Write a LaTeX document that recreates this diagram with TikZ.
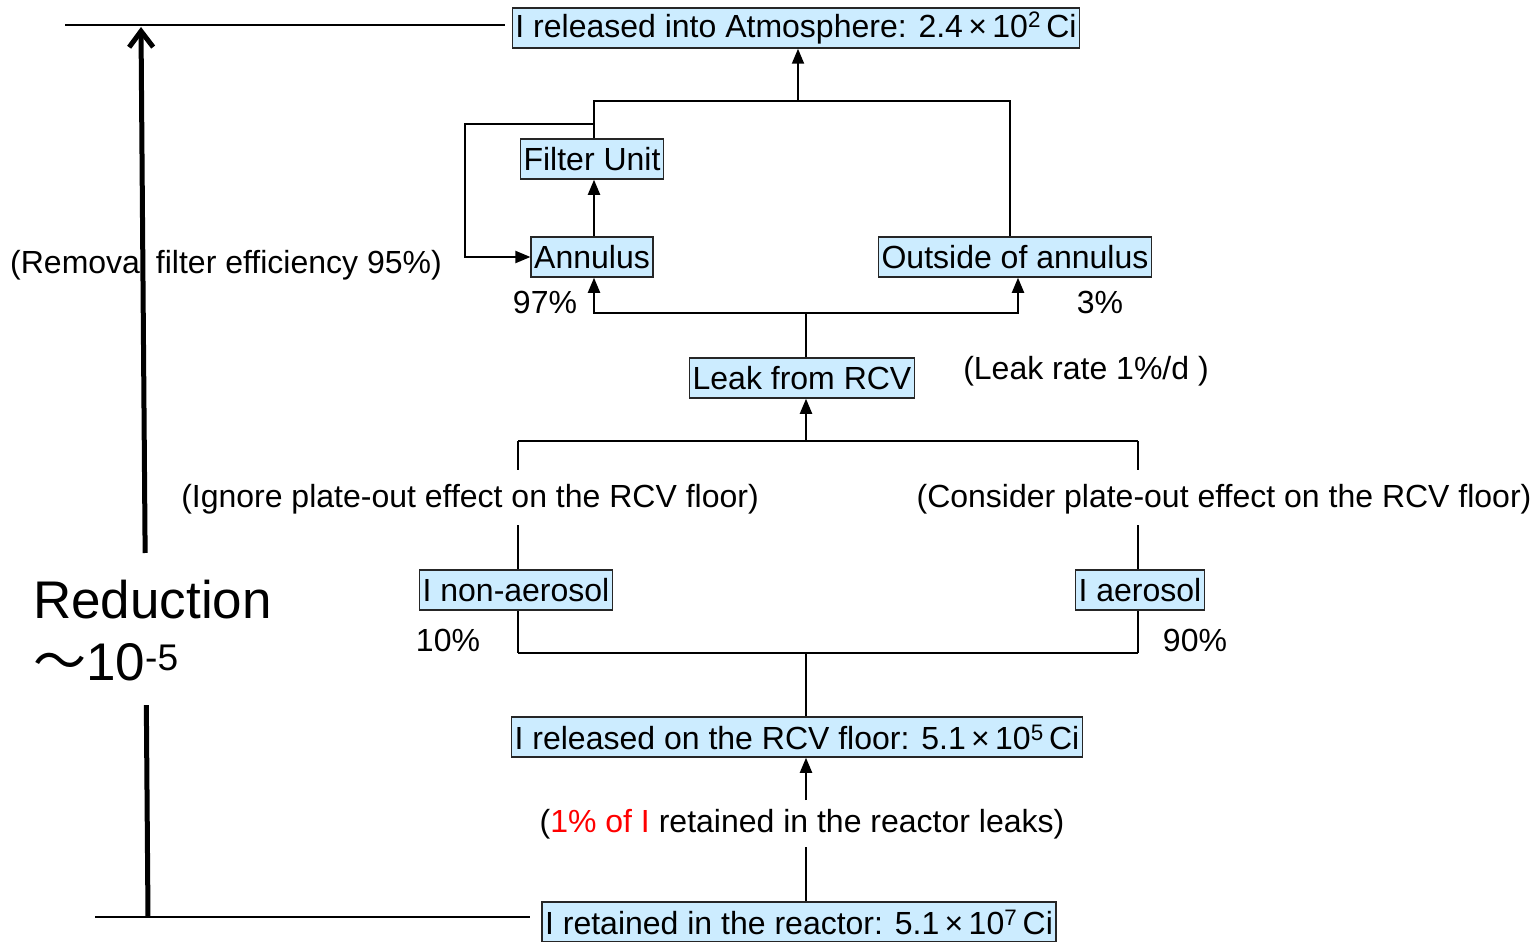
\documentclass[tikz,border=0pt]{standalone}
\usepackage{fontspec}
\setmainfont{Liberation Sans}
\newfontfamily\cjkjp{Noto Sans CJK JP}
\usetikzlibrary{arrows.meta,calc}
\definecolor{boxblue}{RGB}{204,236,255}
\begin{document}
\begin{tikzpicture}[x=1pt,y=-1pt,
  box/.style={draw=black!85, fill=boxblue, line width=1.5pt, inner xsep=3pt, inner ysep=0pt,
              minimum height=40pt, font=\fontsize{32}{37}\selectfont},
  lbl/.style={inner sep=0pt, font=\fontsize{32}{37}\selectfont},
  wire/.style={line width=2pt},
  thinwire/.style={line width=1.2pt},
  flow/.style={line width=2pt, -{Triangle[length=15pt,width=12pt]}},
  bigline/.style={line width=5pt}]
\useasboundingbox (0,0) rectangle (1537,942);

% boxes
\node[box] (tb) at (796,28)   {I released into Atmosphere: 2.4\,×\,10\textsuperscript{2}\,Ci};
\node[box] (fu) at (592,159)  {Filter Unit};
\node[box] (an) at (592,257)  {Annulus};
\node[box] (ob) at (1015,257) {Outside of annulus};
\node[box] (lk) at (802,378)  {Leak from RCV};
\node[box] (na) at (516,590)  {I non-aerosol};
\node[box] (ae) at (1140,590) {I aerosol};
\node[box] (fl) at (797,737)  {I released on the RCV floor: 5.1\,×\,10\textsuperscript{5}\,Ci};
\node[box] (rx) at (799,922)  {I retained in the reactor: 5.1\,×\,10\textsuperscript{7}\,Ci};

% labels
\node[lbl] (rem) at (226,265)  {(Removal filter efficiency 95\%)};
\node[lbl] (p97) at (545,302)  {97\%};
\node[lbl] (p3)  at (1100,302) {3\%};
\node[lbl] (lr)  at (1086,371) {(Leak rate 1\%/d )};
\node[lbl] (ign) at (470,499)  {(Ignore plate-out effect on the RCV floor)};
\node[lbl] (con) at (1224,499) {(Consider plate-out effect on the RCV floor)};
\node[lbl] (p10) at (448,640)  {10\%};
\node[lbl] (p90) at (1195,640) {90\%};
\node[lbl] (leak) at (802,824) {(\textcolor{red}{1\% of I} retained in the reactor leaks)};

\node[anchor=base west, inner sep=0pt, font=\fontsize{53}{60}\selectfont] (red1) at (33,618) {Reduction};
\node[anchor=base west, inner sep=0pt, font=\fontsize{53}{60}\selectfont] (red2) at (33,680)
  {{\cjkjp ～}10\textsuperscript{-5}};

% helper coordinates
\coordinate (xa)  at (594,0);
\coordinate (xo)  at (1010,0);
\coordinate (xob) at (1018,0);
\coordinate (xm)  at (806,0);
\coordinate (xl)  at (518,0);
\coordinate (xr)  at (1138,0);
\coordinate (tbus) at (798,101);
\coordinate (abus) at (806,313);
\coordinate (lbus) at (806,441);
\coordinate (bbus) at (806,653);
\coordinate (byp)  at (594,124);
\coordinate (byl)  at (465,124);
\coordinate (gapu) at (0,470);
\coordinate (gapd) at (0,525);
\coordinate (lku)  at (806,800);
\coordinate (lkd)  at (806,847);

% upper network
\draw[flow] (tbus) -- (tbus |- tb.south);
\draw[wire] (xa |- fu.north) -- (xa |- tbus) -- (xo |- tbus) -- (xo |- ob.north);
\draw[flow] (byp) -- (byl) |- (an.west);
\draw[flow] (xa |- an.north) -- (xa |- fu.south);
\draw[wire] (xm |- lk.north) -- (abus);
\draw[flow] (abus) -| (xa |- an.south);
\draw[flow] (abus) -| (xob |- ob.south);

% middle network
\draw[flow] (lbus) -- (xm |- lk.south);
\draw[wire] (xl |- lbus) -- (xr |- lbus);
\draw[thinwire] (xl |- lbus) -- (xl |- gapu);
\draw[thinwire] (xr |- lbus) -- (xr |- gapu);
\draw[thinwire] (xl |- gapd) -- (xl |- na.north);
\draw[thinwire] (xr |- gapd) -- (xr |- ae.north);
\draw[thinwire] (xl |- na.south) -- (xl |- bbus);
\draw[thinwire] (xr |- ae.south) -- (xr |- bbus);
\draw[wire] (xl |- bbus) -- (xr |- bbus);
\draw[thinwire] (xm |- fl.north) -- (bbus);

% lower network
\draw[thinwire] (xm |- rx.north) -- (lkd);
\draw[flow] (lku) -- (xm |- fl.south);

% reference levels and overall reduction arrow
\coordinate (lvt0) at (65,25);
\coordinate (lvt1) at (505,25);
\coordinate (lvb0) at (95,917);
\coordinate (lvb1) at (530,917);
\draw[thinwire] (lvt0) -- (lvt1);
\draw[thinwire] (lvb0) -- (lvb1);
\coordinate (rb) at (148,917);
\coordinate (rt) at (141,27);
\draw[bigline] (rb) -- ($(rb)!0.238!(rt)$);
\draw[bigline, -{Straight Barb[length=16pt,width=24pt]}] ($(rb)!0.409!(rt)$) -- (rt);
\end{tikzpicture}
\end{document}
